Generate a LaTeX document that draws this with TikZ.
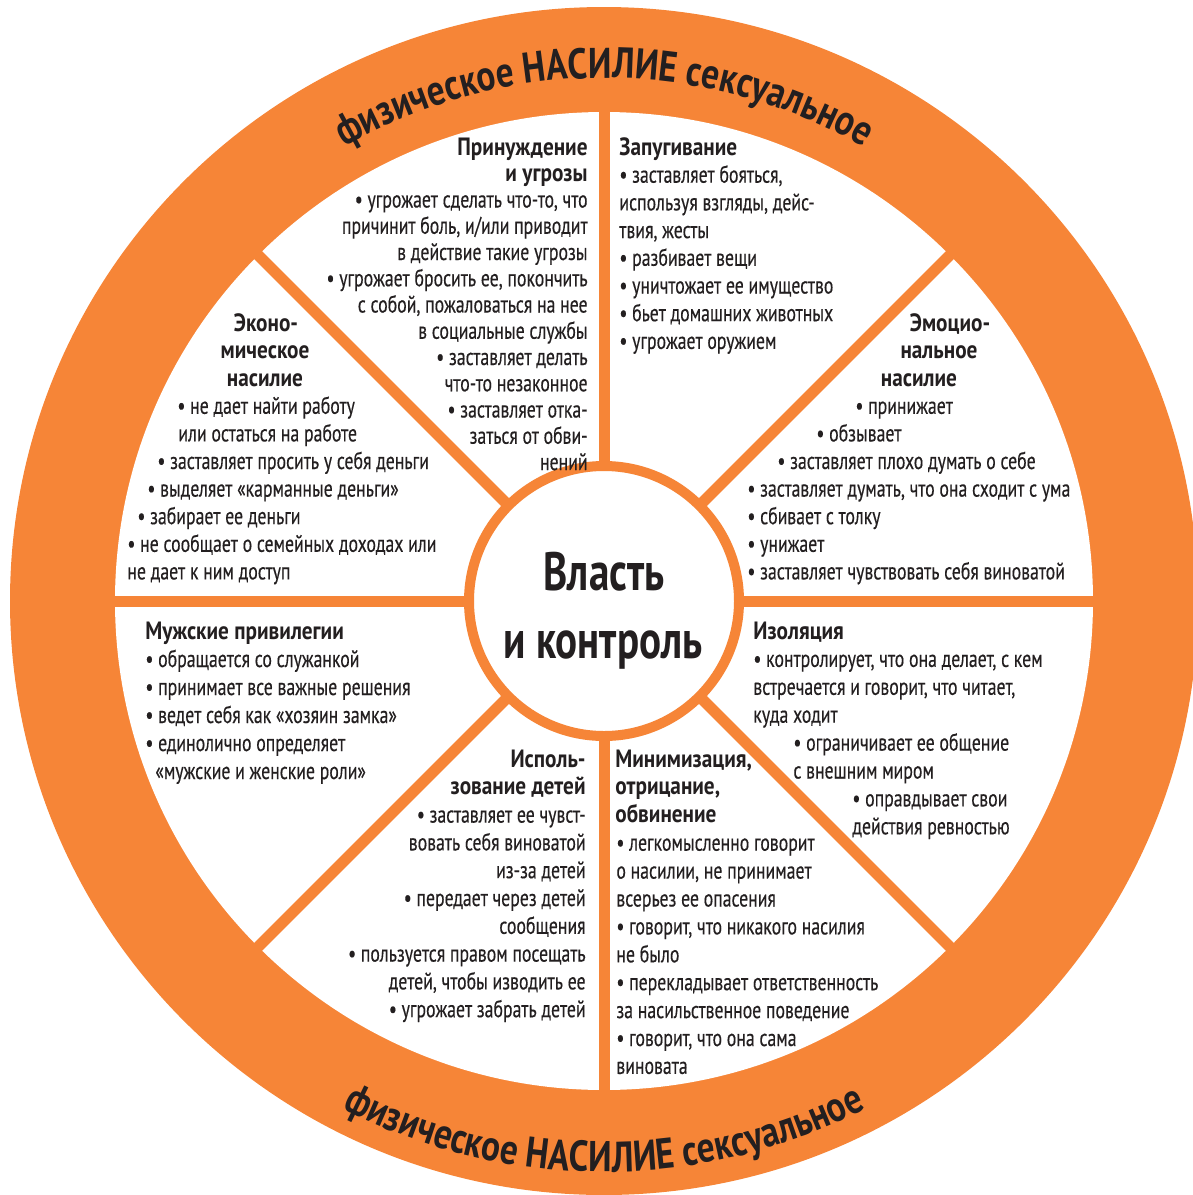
\documentclass[tikz,border=0pt]{standalone}
\usepackage{fontspec}
\setmainfont{PT Sans}[FakeStretch=0.74]
\newfontfamily\bodyfamily{PT Sans}[FakeStretch=0.74, FakeBold=0.3]
\newfontfamily\headfamily{PT Sans}[FakeStretch=0.85]
\newfontfamily\corefamily{PT Sans}[FakeStretch=0.76]
\newfontfamily\ringfamily{PT Sans}[FakeStretch=0.82]
\usetikzlibrary{decorations.text}

\definecolor{wheel}{RGB}{246,133,55}
\definecolor{ink}{RGB}{35,31,32}

\tikzset{
  body/.style={inner sep=0pt, text=ink, font=\bodyfamily\fontsize{12}{14}\selectfont},
  head/.style={inner sep=0pt, text=ink, font=\headfamily\fontsize{12.5}{14}\selectfont\bfseries},
  corefont/.style={inner sep=0pt, text=ink, font=\corefamily\fontsize{27}{30}\selectfont\bfseries},
  spoke/.style={draw=wheel, line width=5.5pt},
  ringtext/.style={decorate, decoration={text along path, text align=center,
    text={|\ringfamily\bfseries\fontsize{21.5}{24}\selectfont\color{ink}|#1}}},
}

\begin{document}
\begin{tikzpicture}[x=0.5pt, y=-0.5pt]
\useasboundingbox (0,0) rectangle (1193,1195);
\clip (0,0) rectangle (1193,1195);

% wheel
\coordinate (hub) at (604,601);
\fill[wheel] (hub) circle[radius=594];
\fill[white] (hub) circle[radius=489];
\foreach \a in {0,45,...,315}
  \draw[spoke] (hub) -- ++(\a:492);
\draw[wheel, fill=white, line width=5pt] (hub) circle[radius=135];
\node[corefont, anchor=base] (power) at (604,590) {Власть};
\node[corefont, anchor=base] (control) at (603,658) {и контроль};

% rim
\path[ringtext={физическое НАСИЛИЕ сексуальное}]
  ([shift={(-132:523)}]hub) arc[start angle=-132, end angle=-48, radius=523];
\path[ringtext={физическое НАСИЛИЕ сексуальное}]
  ([shift={(132:571)}]hub) arc[start angle=132, end angle=48, radius=571];

% coercion and threats
\node[head, anchor=base east] (coer1) at (588,155) {Принуждение};
\node[head, anchor=base east] (coer2) at (588,181.25) {и угрозы};
\foreach \entry [count=\i from 3] in {%
  {• угрожает сделать что-то, что},
  {причинит боль, и/или приводит},
  {в действие такие угрозы},
  {• угрожает бросить ее, покончить},
  {с собой, пожаловаться на нее},
  {в социальные службы},
  {• заставляет делать},
  {что-то незаконное},
  {• заставляет отка-},
  {заться от обви-},
  {нений}}
  \node[body, anchor=base east] (coer\i) at (588,{155+26.25*(\i-1)}) {\entry};

% intimidation
\node[head, anchor=base west] (fear1) at (619,155) {Запугивание};
\foreach \entry [count=\i from 2] in {%
  {• заставляет бояться,},
  {используя взгляды, дейс-},
  {твия, жесты},
  {• разбивает вещи},
  {• уничтожает ее имущество},
  {• бьет домашних животных},
  {• угрожает оружием}}
  \node[body, anchor=base west] (fear\i) at (619,{155+27.7*(\i-1)}) {\entry};

% emotional abuse
\node[head, anchor=base] (emo1) at (950,331) {Эмоцио-};
\node[head, anchor=base] (emo2) at (939,358.6) {нальное};
\node[head, anchor=base] (emo3) at (919,386.2) {насилие};
\foreach \x/\entry [count=\i from 4] in {%
  855/{• принижает},
  816/{• обзывает},
  777/{• заставляет плохо думать о себе},
  747/{• заставляет думать, что она сходит с ума},
  747/{• сбивает с толку},
  747/{• унижает},
  747/{• заставляет чувствовать себя виноватой}}
  \node[body, anchor=base west] (emo\i) at (\x,{331+27.6*(\i-1)}) {\entry};

% economic abuse
\node[head, anchor=base] (econ1) at (266,331) {Эконо-};
\node[head, anchor=base] (econ2) at (265,358.6) {мическое};
\node[head, anchor=base] (econ3) at (265,386.2) {насилие};
\foreach \x/\entry [count=\i from 4] in {%
  177/{• не дает найти работу},
  178/{или остаться на работе},
  157/{• заставляет просить у себя деньги},
  147/{• выделяет «карманные деньги»},
  137/{• забирает ее деньги},
  127/{• не сообщает о семейных доходах или},
  127/{не дает к ним доступ}}
  \node[body, anchor=base west] (econ\i) at (\x,{331+27.6*(\i-1)}) {\entry};

% male privilege
\node[head, anchor=base west] (male1) at (145,639) {Мужские привилегии};
\foreach \x/\entry [count=\i from 2] in {%
  145/{• обращается со служанкой},
  145/{• принимает все важные решения},
  145/{• ведет себя как «хозяин замка»},
  145/{• единолично определяет},
  155/{«мужские и женские роли»}}
  \node[body, anchor=base west] (male\i) at (\x,{639+28*(\i-1)}) {\entry};

% using children
\node[head, anchor=base east] (kids1) at (586,767) {Исполь-};
\node[head, anchor=base east] (kids2) at (586,794.8) {зование детей};
\foreach \entry [count=\i from 3] in {%
  {• заставляет ее чувст-},
  {вовать себя виноватой},
  {из-за детей},
  {• передает через детей},
  {сообщения},
  {• пользуется правом посещать},
  {детей, чтобы изводить ее},
  {• угрожает забрать детей}}
  \node[body, anchor=base east] (kids\i) at (586,{767+27.8*(\i-1)}) {\entry};

% minimizing, denying, blaming
\node[head, anchor=base west] (deny1) at (615,767) {Минимизация,};
\node[head, anchor=base west] (deny2) at (615,794.9) {отрицание,};
\node[head, anchor=base west] (deny3) at (615,822.8) {обвинение};
\foreach \entry [count=\i from 4] in {%
  {• легкомысленно говорит},
  {о насилии, не принимает},
  {всерьез ее опасения},
  {• говорит, что никакого насилия},
  {не было},
  {• перекладывает ответственность},
  {за насильственное поведение},
  {• говорит, что она сама},
  {виновата}}
  \node[body, anchor=base west] (deny\i) at (616,{767+27.9*(\i-1)}) {\entry};

% isolation
\node[head, anchor=base west] (iso1) at (753,639) {Изоляция};
\foreach \x/\entry [count=\i from 2] in {%
  753/{• контролирует, что она делает, с кем},
  753/{встречается и говорит, что читает,},
  753/{куда ходит},
  793/{• ограничивает ее общение},
  793/{с внешним миром},
  852/{• оправдывает свои},
  852/{действия ревностью}}
  \node[body, anchor=base west] (iso\i) at (\x,{639+27.9*(\i-1)}) {\entry};
\end{tikzpicture}
\end{document}
